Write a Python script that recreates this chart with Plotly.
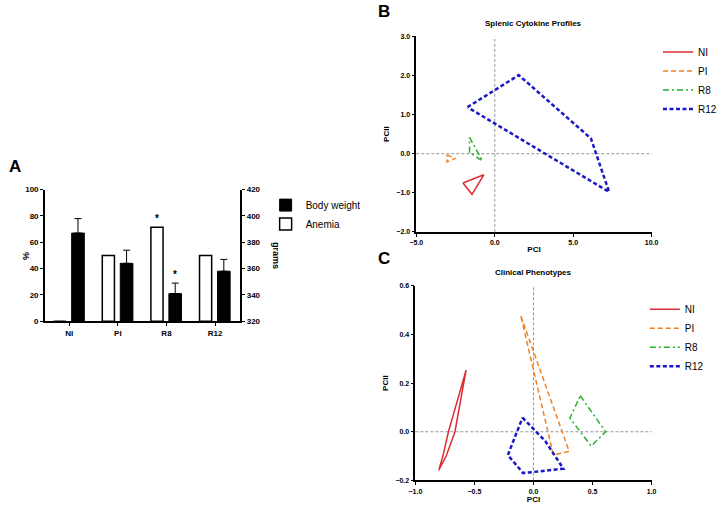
import plotly.graph_objects as go

# ---------------- Panel A data ----------------
groups = ["NI", "PI", "R8", "R12"]
anemia_pct = [0, 50, 71.4, 50]
body_weight_g = [387, 364, 341, 358]
body_weight_err = [11, 10, 8, 9]
anemia_star = [False, False, True, False]
weight_star = [False, False, True, False]

# ---------------- Panel B data (Splenic Cytokine Profiles) ----------------
spl_NI_x = [-2.03, -0.70, -1.45, -2.03]
spl_NI_y = [-0.75, -0.54, -1.04, -0.75]
spl_PI_x = [-3.05, -2.50, -3.05, -3.05]
spl_PI_y = [-0.03, -0.12, -0.21, -0.03]
spl_R8_x = [-1.61, -0.79, -1.61, -1.61]
spl_R8_y = [0.42, -0.18, 0.03, 0.42]
spl_R12_x = [-1.74, 1.53, 6.13, 7.29, -1.74]
spl_R12_y = [1.19, 2.01, 0.39, -0.98, 1.19]

# ---------------- Panel C data (Clinical Phenotypes) ----------------
cli_NI_x = [-0.571, -0.600, -0.665, -0.739, -0.802, -0.767, -0.720, -0.620, -0.571]
cli_NI_y = [0.253, 0.170, 0.000, -0.100, -0.158, -0.100, 0.000, 0.170, 0.253]
cli_PI_x = [-0.107, 0.302, 0.168, -0.075, -0.107]
cli_PI_y = [0.476, -0.081, -0.095, 0.420, 0.476]
cli_R8_x = [0.396, 0.610, 0.489, 0.308, 0.396]
cli_R8_y = [0.148, 0.000, -0.059, 0.056, 0.148]
cli_R12_x = [-0.093, 0.099, 0.253, -0.088, -0.217, -0.093]
cli_R12_y = [0.058, -0.038, -0.152, -0.170, -0.096, 0.058]

W, H = 722, 506
FONT = "Liberation Sans, Arial, sans-serif"

def px(x):
    return x / W

def py(y):
    return 1 - y / H

styles = {
    "NI": dict(color="rgb(220,45,50)", dash="solid", width=1.5),
    "PI": dict(color="rgb(240,130,35)", dash="5px,3px", width=1.5),
    "R8": dict(color="rgb(40,175,40)", dash="6px,3px,2px,3px", width=1.5),
    "R12": dict(color="rgb(25,25,200)", dash="4px,2.5px", width=2.5),
}

fig = go.Figure()

# ---- Panel A ----
fig.add_trace(go.Bar(
    x=groups, y=body_weight_g, name="Body weight", yaxis="y2", xaxis="x",
    marker=dict(color="black", line=dict(color="black", width=1)),
    width=0.26, offset=0.05,
    error_y=dict(type="data", array=body_weight_err, arrayminus=[0] * 4,
                 symmetric=False, color="black", thickness=1, width=3.5),
    legend="legend", legendrank=1,
))
fig.add_trace(go.Bar(
    x=groups, y=anemia_pct, name="Anemia", yaxis="y", xaxis="x",
    marker=dict(color="white", line=dict(color="black", width=1.5)),
    width=0.25, offset=-0.32,
    legend="legend", legendrank=2,
))

# ---- Panel B ----
for name, xs, ys in [("NI", spl_NI_x, spl_NI_y), ("PI", spl_PI_x, spl_PI_y),
                     ("R8", spl_R8_x, spl_R8_y), ("R12", spl_R12_x, spl_R12_y)]:
    fig.add_trace(go.Scatter(x=xs, y=ys, mode="lines", name=name,
                             line=styles[name], xaxis="x2", yaxis="y3",
                             legend="legend2"))

# ---- Panel C ----
for name, xs, ys in [("NI", cli_NI_x, cli_NI_y), ("PI", cli_PI_x, cli_PI_y),
                     ("R8", cli_R8_x, cli_R8_y), ("R12", cli_R12_x, cli_R12_y)]:
    fig.add_trace(go.Scatter(x=xs, y=ys, mode="lines", name=name,
                             line=styles[name], xaxis="x3", yaxis="y4",
                             legend="legend3"))

tickfont = dict(family=FONT, size=8, color="black", weight="bold")
small_tick = dict(family=FONT, size=7, color="black", weight="bold")
axis_common = dict(showline=True, linecolor="black", linewidth=1.5, ticks="outside",
                   ticklen=3, tickwidth=1.2, tickcolor="black", showgrid=False,
                   zeroline=False, mirror=False)
title_font = dict(family=FONT, size=8, weight="bold")
legend_font = dict(family=FONT, size=10, color="black")

fig.update_layout(
    width=W, height=H,
    margin=dict(l=0, r=0, t=0, b=0),
    paper_bgcolor="white", plot_bgcolor="white",
    font=dict(family=FONT, color="black"),
    barmode="overlay",
    xaxis=dict(domain=[px(39), px(240)], anchor="y", type="category",
               range=[-0.5, 3.52], tickfont=tickfont, **axis_common),
    yaxis=dict(domain=[py(323), py(189)], anchor="x", range=[0, 100], dtick=20,
               tickfont=tickfont, **axis_common),
    yaxis2=dict(overlaying="y", side="right", anchor="x", range=[320, 420], dtick=20,
                tickfont=tickfont, **axis_common),
    xaxis2=dict(domain=[px(421), px(663)], anchor="y3", range=[-5, 10], dtick=5,
                tickformat=".1f", tickfont=small_tick,
                title=dict(text="PCI", font=title_font, standoff=1),
                **axis_common),
    yaxis3=dict(domain=[py(232), py(33)], anchor="x2", range=[-2, 3], dtick=1,
                tickformat=".1f", tickfont=small_tick,
                title=dict(text="PCII", font=title_font, standoff=6),
                **axis_common),
    xaxis3=dict(domain=[px(420), px(663)], anchor="y4", range=[-1, 1], dtick=0.5,
                tickformat=".1f", tickfont=small_tick,
                title=dict(text="PCI", font=title_font, standoff=1),
                **axis_common),
    yaxis4=dict(domain=[py(485), py(287)], anchor="x3", range=[-0.2, 0.6], dtick=0.2,
                tickformat=".1f", tickfont=small_tick,
                title=dict(text="PCII", font=title_font, standoff=6),
                **axis_common),
    legend=dict(x=px(266), y=py(190), xanchor="left", yanchor="top",
                font=legend_font, bgcolor="rgba(0,0,0,0)",
                itemwidth=30, tracegroupgap=0),
    legend2=dict(x=px(670), y=py(34), xanchor="left", yanchor="top",
                 font=legend_font, bgcolor="rgba(0,0,0,0)",
                 itemwidth=30, tracegroupgap=0),
    legend3=dict(x=px(656), y=py(296), xanchor="left", yanchor="top",
                 font=legend_font, bgcolor="rgba(0,0,0,0)",
                 itemwidth=30, tracegroupgap=0),
)

# dashed zero reference lines in B and C
for xr, yr in [("x2", "y3"), ("x3", "y4")]:
    fig.add_shape(type="line", xref=f"{xr} domain", x0=0, x1=1, yref=yr, y0=0, y1=0,
                  line=dict(color="rgb(150,150,150)", width=1, dash="3px,2px"), layer="below")
    fig.add_shape(type="line", xref=xr, x0=0, x1=0, yref=f"{yr} domain", y0=0, y1=1,
                  line=dict(color="rgb(150,150,150)", width=1, dash="3px,2px"), layer="below")

ann = []
# significance asterisks
for i, g in enumerate(groups):
    if anemia_star[i]:
        ann.append(dict(x=i - 0.32 + 0.125, y=anemia_pct[i], xref="x", yref="y",
                        text="*", showarrow=False, yanchor="bottom", yshift=1,
                        font=dict(family=FONT, size=10, weight="bold")))
    if weight_star[i]:
        ann.append(dict(x=i + 0.05 + 0.13, y=body_weight_g[i] + body_weight_err[i],
                        xref="x", yref="y2", text="*", showarrow=False,
                        yanchor="bottom", yshift=1,
                        font=dict(family=FONT, size=10, weight="bold")))

# axis titles of panel A
ann.append(dict(x=px(20), y=py(256), xref="paper", yref="paper", text="%", textangle=-90,
                xanchor="center", yanchor="middle",
                showarrow=False, font=dict(family=FONT, size=9, weight="bold")))
ann.append(dict(x=px(276), y=py(256), xref="paper", yref="paper", text="grams", textangle=90,
                xanchor="center", yanchor="middle",
                showarrow=False, font=dict(family=FONT, size=9, weight="bold")))
# panel titles
ann.append(dict(x=px(541), y=py(20), xref="paper", yref="paper", text="Splenic Cytokine Profiles",
                xanchor="center", yanchor="middle",
                showarrow=False, font=dict(family=FONT, size=8, weight="bold")))
ann.append(dict(x=px(541), y=py(273), xref="paper", yref="paper", text="Clinical Phenotypes",
                xanchor="center", yanchor="middle",
                showarrow=False, font=dict(family=FONT, size=8, weight="bold")))
# panel letters
for letter, lx, ly in [("A", 8, 165), ("B", 388, 8), ("C", 388, 259)]:
    ann.append(dict(x=px(lx), y=py(ly), xref="paper", yref="paper", text=letter,
                    xanchor="center", yanchor="middle",
                    showarrow=False, font=dict(family=FONT, size=17, weight="bold")))

fig.update_layout(annotations=ann)

fig.write_html("out.html",
               config={"displayModeBar": False},
               post_script="document.body.style.margin='0';document.body.style.overflow='hidden';")
